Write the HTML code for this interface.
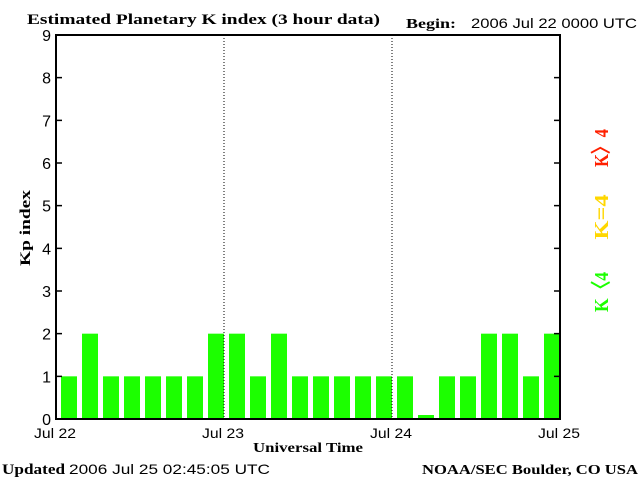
<!DOCTYPE html>
<html><head><meta charset="utf-8"><style>
html,body{margin:0;padding:0;background:#fff;}
svg{display:block;}
text{font-family:"Liberation Sans",sans-serif;}
.serif{font-family:"Liberation Serif",serif;font-weight:bold;}
</style></head><body>
<svg id="chart" width="640" height="480" viewBox="0 0 640 480">
<text class="serif" x="27" y="24" font-size="15" textLength="353" lengthAdjust="spacingAndGlyphs">Estimated Planetary K index (3 hour data)</text>
<text class="serif" x="406" y="28" font-size="14" textLength="50" lengthAdjust="spacingAndGlyphs">Begin:</text>
<text x="471" y="28" font-size="14" textLength="166" lengthAdjust="spacingAndGlyphs">2006 Jul 22 0000 UTC</text>
<g id="bars"></g>
<g id="axes"></g>
<text class="serif" x="30" y="228" font-size="15" textLength="76" lengthAdjust="spacingAndGlyphs" transform="rotate(-90 30 228)" text-anchor="middle">Kp index</text>
<text class="serif" x="253" y="452" font-size="14" textLength="110" lengthAdjust="spacingAndGlyphs">Universal Time</text>
<text class="serif" x="2" y="474" font-size="15" textLength="63" lengthAdjust="spacingAndGlyphs">Updated</text>
<text x="69" y="474" font-size="14" textLength="201" lengthAdjust="spacingAndGlyphs">2006 Jul 25 02:45:05 UTC</text>
<text class="serif" x="422" y="474" font-size="14" textLength="216" lengthAdjust="spacingAndGlyphs">NOAA/SEC Boulder, CO USA</text>
<text class="serif" x="608" y="130" font-size="20" fill="#ff2000" textLength="38" lengthAdjust="spacingAndGlyphs" transform="rotate(-90 608 148)" text-anchor="middle"><tspan x="608" y="148">K〉4</tspan></text>
<text class="serif" x="608" y="217" font-size="20" fill="#ffd700" textLength="45" lengthAdjust="spacingAndGlyphs" transform="rotate(-90 608 217)" text-anchor="middle">K=4</text>
<text class="serif" x="608" y="292" font-size="20" fill="#1cff00" textLength="40" lengthAdjust="spacingAndGlyphs" transform="rotate(-90 608 292)" text-anchor="middle">K〈4</text>
</svg>
<script>
const kpValues = [1,2,1,1,1,1,1,2, 2,1,2,1,1,1,1,1, 1,0,1,1,2,2,1,2];
const yTicks = [0,1,2,3,4,5,6,7,8,9];
const dayLabels = ["Jul 22","Jul 23","Jul 24","Jul 25"];
const NS="http://www.w3.org/2000/svg";
const X0=56,X1=560,Y0=419,Y9=35;
const y=v=>Y0-(Y0-Y9)*v/9;
const x=i=>X0+(X1-X0)*i/kpValues.length;
function mk(tag,attrs,parent){const e=document.createElementNS(NS,tag);for(const k in attrs)e.setAttribute(k,attrs[k]);parent.appendChild(e);return e;}
const bars=document.getElementById('bars'),axes=document.getElementById('axes');
kpValues.forEach((v,i)=>{
  const top=Math.min(y(v),Y0-4);
  const r=mk('rect',{x:x(i)+5,y:top,width:16,height:Y0-top,fill:'#1cff00'},bars);
  
  
});
const b=mk('path',{d:`M${X0} ${Y9}H${X1}V${Y0}H${X0}Z`,fill:'none',stroke:'#000','stroke-width':2},axes);


yTicks.forEach(t=>{
  const l=mk('path',{d:`M${X0} ${y(t)}h6M${X1} ${y(t)}h-6`,stroke:'#000','stroke-width':1.5},axes);
  
  
  const tx=mk('text',{x:X0-5,y:y(t)+6,'font-size':16,'text-anchor':'end'},axes);
  tx.textContent=t;
  
  
});
dayLabels.forEach((d,i)=>{
  const xx=X0+(X1-X0)*i/(dayLabels.length-1);
  if(i>0&&i<dayLabels.length-1){
    const l=mk('line',{x1:xx,x2:xx,y1:Y9,y2:Y0,stroke:'#000','stroke-dasharray':'1 2'},axes);
    
    
  }
  const tx=mk('text',{x:xx-22,y:438,'font-size':14,textLength:42,lengthAdjust:'spacingAndGlyphs'},axes);
  tx.textContent=d;
  
  
});
</script>
</body></html>
